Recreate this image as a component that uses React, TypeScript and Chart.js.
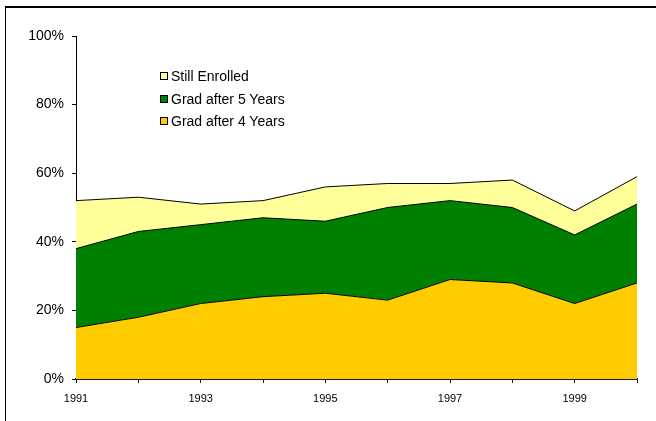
import React, { useEffect, useRef } from "react";
import { Chart, registerables } from "chart.js";

Chart.register(...registerables);

const years = ["1991", "1992", "1993", "1994", "1995", "1996", "1997", "1998", "1999", "2000"];
const grad4 = [15, 18, 22, 24, 25, 23, 29, 28, 22, 28];
const grad5 = [23, 25, 23, 23, 21, 27, 23, 22, 20, 23];
const stillEnrolled = [14, 10, 6, 5, 10, 7, 5, 8, 7, 8];
const yTicks = [0, 20, 40, 60, 80, 100];

const FONT = "'Liberation Sans', Arial, Helvetica, sans-serif";

const legendItems = [
  { label: "Still Enrolled", color: "#FFFF99" },
  { label: "Grad after 5 Years", color: "#008000" },
  { label: "Grad after 4 Years", color: "#FFCC00" },
];

export default function App() {
  const ref = useRef<HTMLCanvasElement | null>(null);

  useEffect(() => {
    if (!ref.current) return;
    const chart = new Chart(ref.current, {
      type: "line",
      data: {
        labels: years,
        datasets: [
          {
            label: "Grad after 4 Years",
            data: grad4,
            backgroundColor: "#FFCC00",
            borderColor: "#000000",
            borderWidth: 1,
            fill: "origin",
            pointRadius: 0,
            tension: 0,
          },
          {
            label: "Grad after 5 Years",
            data: grad5,
            backgroundColor: "#008000",
            borderColor: "#000000",
            borderWidth: 1,
            fill: "-1",
            pointRadius: 0,
            tension: 0,
          },
          {
            label: "Still Enrolled",
            data: stillEnrolled,
            backgroundColor: "#FFFF99",
            borderColor: "#000000",
            borderWidth: 1,
            fill: "-1",
            pointRadius: 0,
            tension: 0,
          },
        ],
      },
      options: {
        animation: false,
        responsive: false,
        maintainAspectRatio: false,
        layout: { padding: { left: 0, right: 19, top: 36, bottom: 0 } },
        plugins: {
          legend: { display: false },
          tooltip: { enabled: false },
        },
        scales: {
          x: {
            type: "category",
            offset: false,
            afterFit: (s: any) => {
              s.height = 42;
            },
            border: { display: true, color: "#1a1a1a", width: 2 },
            grid: {
              display: true,
              drawOnChartArea: false,
              drawTicks: true,
              tickLength: 4,
              color: "#000000",
            },
            ticks: {
              autoSkip: false,
              maxRotation: 0,
              padding: 9,
              color: "#000000",
              font: { family: FONT, size: 11 },
              callback: (_v: any, i: number) => (i % 2 === 0 ? years[i] : ""),
            },
          },
          y: {
            stacked: true,
            min: 0,
            max: 100,
            afterFit: (s: any) => {
              s.width = 76;
            },
            afterBuildTicks: (s: any) => {
              s.ticks = yTicks.map((v) => ({ value: v }));
            },
            border: { display: true, color: "#000000", width: 1 },
            grid: {
              display: true,
              drawOnChartArea: false,
              drawTicks: true,
              tickLength: 4,
              color: "#000000",
            },
            ticks: {
              padding: 8,
              color: "#000000",
              font: { family: FONT, size: 14 },
              callback: (v: any) => v + "%",
            },
          },
        },
      },
    });
    return () => chart.destroy();
  }, []);

  return (
    <div
      style={{
        position: "absolute",
        left: 0,
        top: 0,
        width: 656,
        height: 421,
        overflow: "hidden",
        background: "#ffffff",
      }}
    >
      <div
        style={{
          position: "absolute",
          left: 5,
          top: 6,
          width: 700,
          height: 500,
          borderLeft: "1px solid #000",
          borderTop: "2px solid #000",
        }}
      />
      <canvas
        ref={ref}
        width={656}
        height={421}
        style={{ position: "absolute", left: 0, top: 0, width: 656, height: 421 }}
      />
      {legendItems.map((it, i) => (
        <div
          key={it.label}
          style={{
            position: "absolute",
            left: 160,
            top: 76 + i * 22.5 - 9,
            height: 18,
            display: "flex",
            alignItems: "center",
            fontFamily: FONT,
            fontSize: 14,
            color: "#000",
            whiteSpace: "nowrap",
          }}
        >
          <span
            style={{
              display: "inline-block",
              width: 6,
              height: 6,
              border: "1px solid #000",
              background: it.color,
              marginRight: 3,
            }}
          />
          <span>{it.label}</span>
        </div>
      ))}
    </div>
  );
}
